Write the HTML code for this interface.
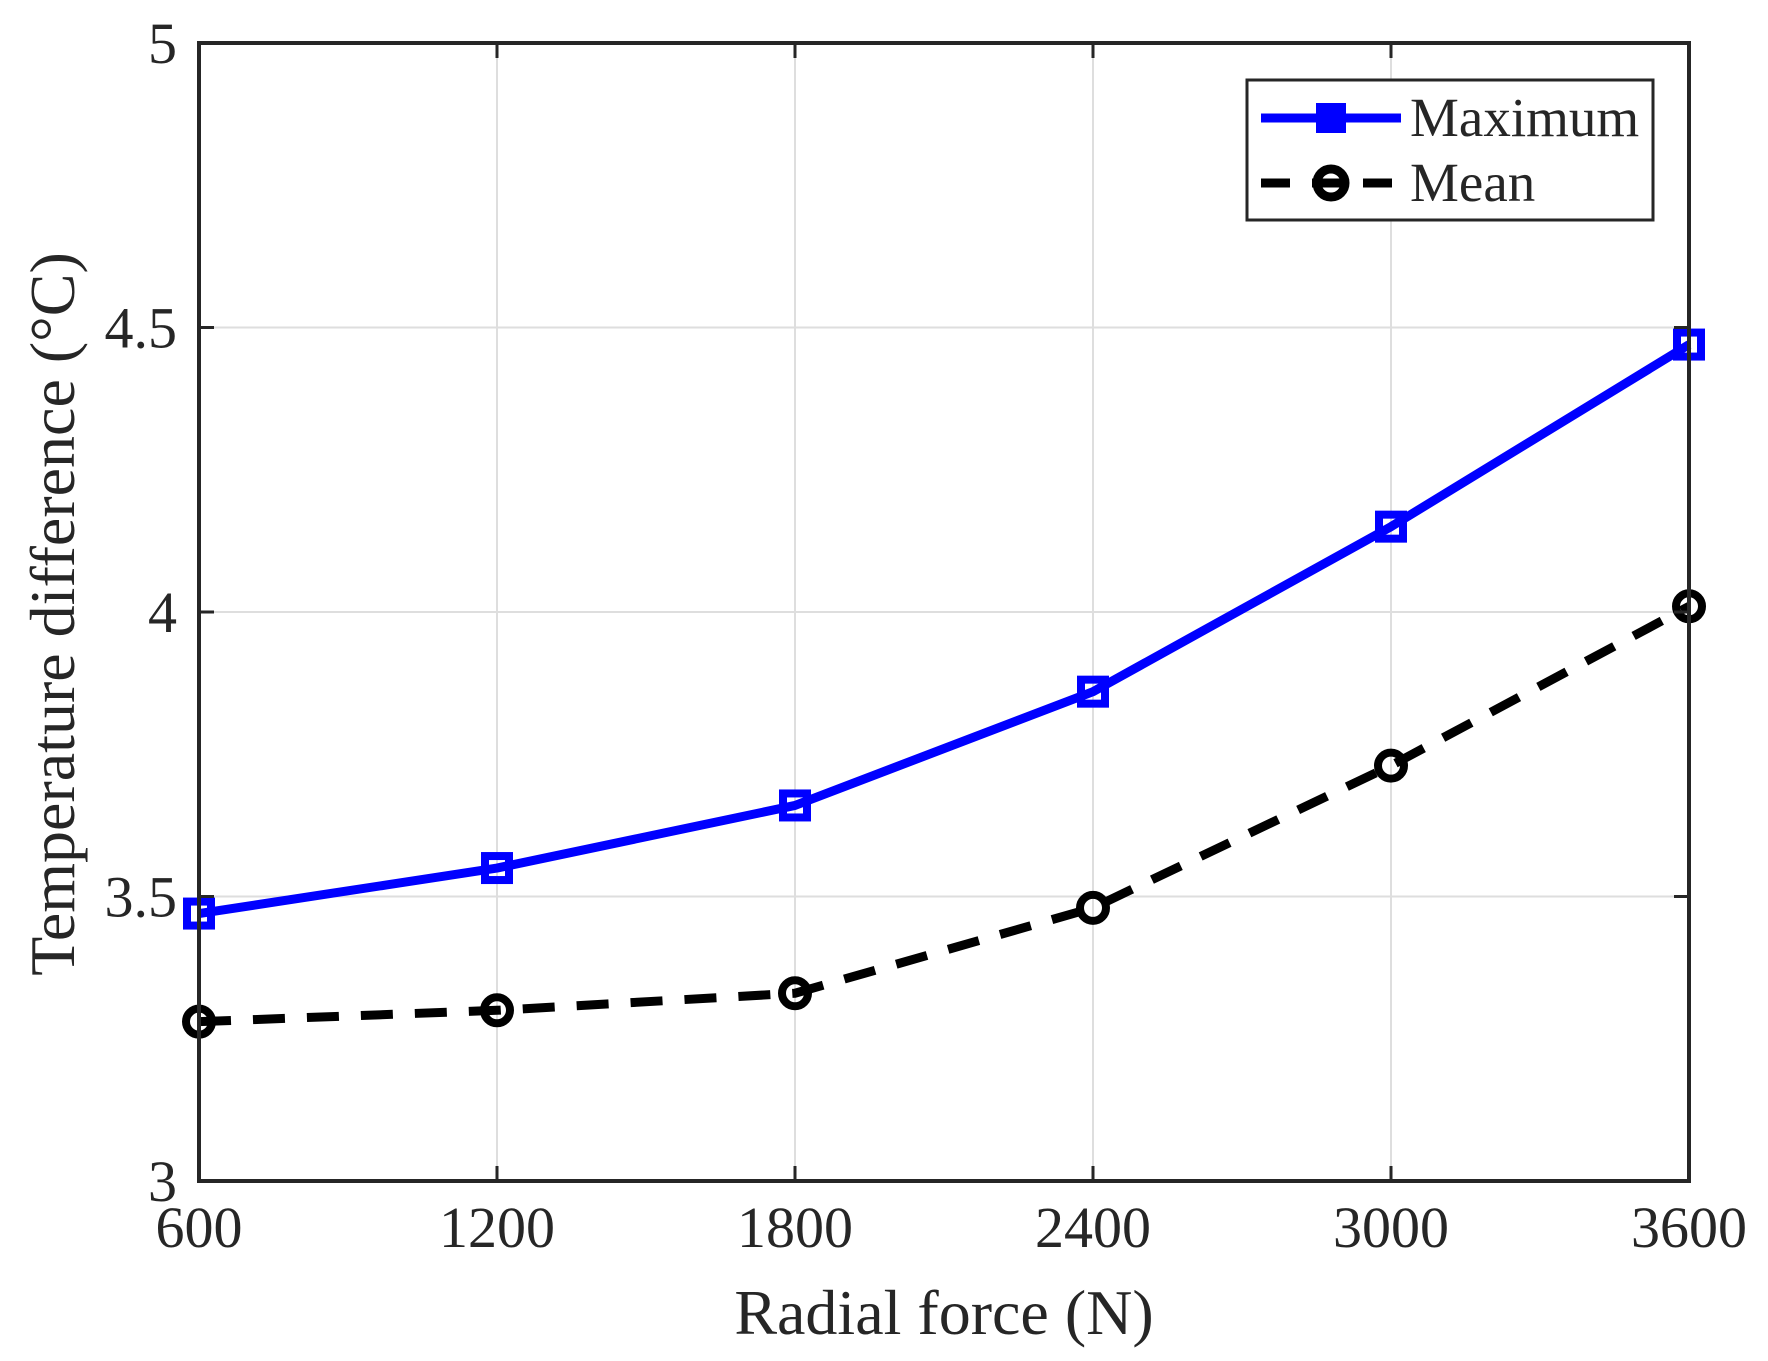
<!DOCTYPE html>
<html><head><meta charset="utf-8"><style>
html,body{margin:0;padding:0;background:#fff}
svg{display:block}
text{font-family:"Liberation Serif",serif;fill:#262626}
</style></head><body>
<svg id="chart" width="1768" height="1361" viewBox="0 0 1768 1361" xmlns="http://www.w3.org/2000/svg">
<g id="grid"></g>
<g id="series"></g>
<g id="axes"></g>
<text x="944" y="1334" font-size="64" text-anchor="middle">Radial force (N)</text>
<text transform="translate(74,614) rotate(-90)" font-size="64" text-anchor="middle">Temperature difference (°C)</text>
<g>
<rect x="1247" y="80" width="406" height="140" fill="#fff" stroke="#262626" stroke-width="3"/>
<g>
<line x1="1261" y1="118" x2="1401" y2="118" stroke="#0000ff" stroke-width="9"/>
<rect x="1316" y="103" width="30" height="30" fill="#0000ff"/>
<text x="1410" y="136" font-size="55" fill="#000">Maximum</text>
</g>
<g>
<line x1="1261" y1="183" x2="1401" y2="183" stroke="#000" stroke-width="9" stroke-dasharray="29,22"/>
<circle cx="1331" cy="183" r="14" fill="none" stroke="#000" stroke-width="9"/>
<text x="1410" y="201" font-size="55" fill="#000">Mean</text>
</g>
</g>
</svg>
<script>
const categories = [600, 1200, 1800, 2400, 3000, 3600];
const maxValues = [3.47, 3.55, 3.66, 3.86, 4.15, 4.47];
const meanValues = [3.28, 3.30, 3.33, 3.48, 3.73, 4.01];
const yTicks = [3, 3.5, 4, 4.5, 5];
const yTickLabels = ["3", "3.5", "4", "4.5", "5"];

const NS = "http://www.w3.org/2000/svg";
const L = 199, R = 1689, T = 43, B = 1181;
const xMin = 600, xMax = 3600, yMin = 3, yMax = 5;
const xs = v => L + (v - xMin) / (xMax - xMin) * (R - L);
const ys = v => B - (v - yMin) / (yMax - yMin) * (B - T);
function mk(tag, attrs, parent) {
  const e = document.createElementNS(NS, tag);
  for (const k in attrs) e.setAttribute(k, attrs[k]);
  parent.appendChild(e);
  return e;
}
const grid = document.getElementById('grid');
const axes = document.getElementById('axes');
const series = document.getElementById('series');

categories.forEach(c => {
  const g = mk('line', {x1: xs(c), x2: xs(c), y1: T, y2: B, stroke: '#dedede', 'stroke-width': 2}, grid);
  
  
  const t = mk('line', {x1: xs(c), x2: xs(c), y1: B, y2: B - 15, stroke: '#262626', 'stroke-width': 3}, axes);
  
  
  const t2 = mk('line', {x1: xs(c), x2: xs(c), y1: T, y2: T + 15, stroke: '#262626', 'stroke-width': 3}, axes);
  
  
  const lb = mk('text', {x: xs(c), y: 1247, 'font-size': 58, 'text-anchor': 'middle'}, axes);
  lb.textContent = String(c);
  
  
});
yTicks.forEach((v, i) => {
  const g = mk('line', {x1: L, x2: R, y1: ys(v), y2: ys(v), stroke: '#dedede', 'stroke-width': 2}, grid);
  
  
  const t = mk('line', {x1: L, x2: L + 15, y1: ys(v), y2: ys(v), stroke: '#262626', 'stroke-width': 3}, axes);
  
  
  const t2 = mk('line', {x1: R, x2: R - 15, y1: ys(v), y2: ys(v), stroke: '#262626', 'stroke-width': 3}, axes);
  
  
  const lb = mk('text', {x: 177, y: ys(v) + 20, 'font-size': 58, 'text-anchor': 'end'}, axes);
  lb.textContent = yTickLabels[i];
  
  
});
const frame = mk('rect', {x: L, y: T, width: R - L, height: B - T, fill: 'none', stroke: '#262626', 'stroke-width': 4}, axes);



const ptsMax = categories.map((c, i) => xs(c) + ',' + ys(maxValues[i])).join(' ');
const lm = mk('polyline', {points: ptsMax, fill: 'none', stroke: '#0000ff', 'stroke-width': 9, 'stroke-linejoin': 'round'}, series);


categories.forEach((c, i) => {
  const m = mk('rect', {x: xs(c) - 12, y: ys(maxValues[i]) - 12, width: 24, height: 24, fill: 'none', stroke: '#0000ff', 'stroke-width': 8}, series);
  
  
});
const ptsMean = categories.map((c, i) => xs(c) + ',' + ys(meanValues[i])).join(' ');
const ln = mk('polyline', {points: ptsMean, fill: 'none', stroke: '#000', 'stroke-width': 9, 'stroke-dasharray': '32,22'}, series);


categories.forEach((c, i) => {
  const m = mk('circle', {cx: xs(c), cy: ys(meanValues[i]), r: 13, fill: 'none', stroke: '#000', 'stroke-width': 8}, series);
  
  
});
</script>
</body></html>
